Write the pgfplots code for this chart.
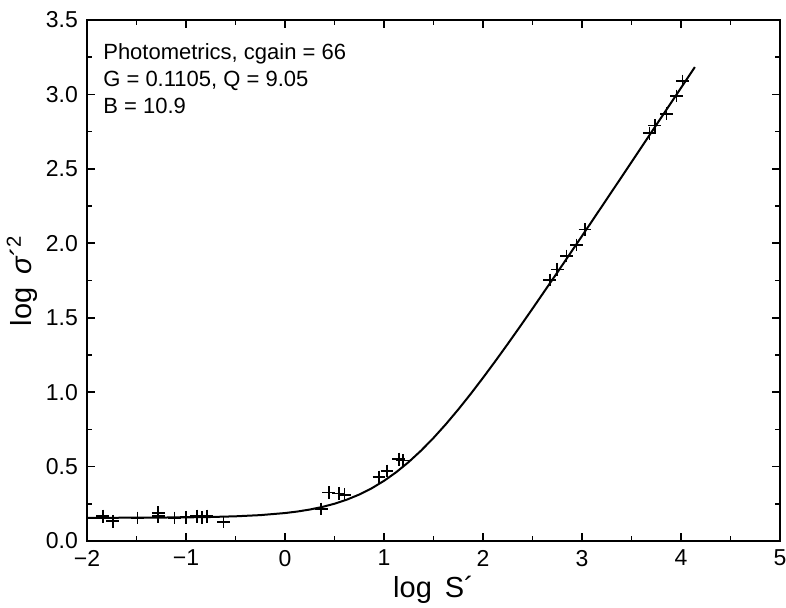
\documentclass[border=0pt]{standalone}
\usepackage{fontspec}
\setmainfont{Liberation Sans}
\usepackage{pgfplots}
\pgfplotsset{compat=1.18}
\begin{document}
\begin{tikzpicture}
\begin{axis}[
  scale only axis,
  width=346.5pt, height=260.5pt,
  xmin=-2, xmax=5, ymin=0, ymax=3.5,
  axis line style={line width=1pt},
  tick style={black, line width=0.8pt},
  tick align=inside,
  major tick length=3.8pt, minor tick length=2.6pt,
  xtick={-2,-1,0,1,2,3,4,5},
  xticklabels={−2,−1,0,1,2,3,4,5},
  ytick={0,0.5,1,1.5,2,2.5,3,3.5},
  yticklabels={0.0,0.5,1.0,1.5,2.0,2.5,3.0,3.5},
  minor x tick num=1, minor y tick num=1,
  ticklabel style={font=\fontsize{11.5}{13}\selectfont},
  xticklabel style={yshift=-1pt},
  yticklabel style={xshift=-1pt},
  xlabel={log\, S´},
  ylabel={log\, {\itshape σ}´\textsuperscript{2}},
  label style={font=\fontsize{14.5}{16}\selectfont},
  xlabel style={at={(rel axis cs:0.5,0)}, anchor=center, yshift=-24.5pt},
  ylabel style={at={(rel axis cs:0,0.5)}, anchor=center, yshift=32.5pt},
  clip=false,
]
% fitted curve
\addplot[black, line width=1pt] coordinates {
  (-2,0.1557)(-1.5,0.1564)(-1,0.1587)(-0.75,0.1612)(-0.5,0.1658)(-0.25,0.1738)
  (0,0.1877)(0.125,0.1979)(0.25,0.2113)(0.375,0.2284)(0.5,0.2503)(0.625,0.2778)
  (0.75,0.3121)(0.875,0.3538)(1,0.4040)(1.125,0.4629)(1.25,0.5308)(1.375,0.6075)
  (1.5,0.6923)(1.625,0.7846)(1.75,0.8833)(1.875,0.9875)(2,1.0962)(2.125,1.2086)
  (2.25,1.3238)(2.375,1.4414)(2.5,1.5608)(2.75,1.8032)(3,2.0490)(3.25,2.2965)
  (3.5,2.5451)(3.75,2.7943)(4,3.0439)(4.14,3.1837)
};
% measurements
\addplot[only marks, mark=+, mark size=3.2pt, mark options={line width=0.8pt}] coordinates {
  (-1.84,0.167)(-1.74,0.133)(-1.49,0.154)(-1.28,0.190)(-1.28,0.167)
  (-1.115,0.154)(-1.0,0.160)(-0.89,0.167)(-0.84,0.160)(-0.79,0.167)(-0.62,0.127)
  (0.366,0.215)(0.443,0.325)(0.544,0.320)(0.60,0.310)
  (0.95,0.430)(1.03,0.470)(1.15,0.550)(1.19,0.540)
  (2.675,1.753)(2.75,1.825)(2.843,1.914)(2.944,1.988)(3.03,2.093)
  (3.68,2.740)(3.735,2.790)(3.855,2.870)(3.955,2.990)(4.016,3.090)
};
\node[anchor=north west, align=left, font=\fontsize{11}{13.5}\selectfont, inner sep=0pt]
  at (rel axis cs:0.023,0.955) {Photometrics, cgain = 66\\G = 0.1105, Q = 9.05\\B = 10.9};
\end{axis}
\pgfresetboundingbox
\path (current axis.south west) ++(-43.5pt,-33.5pt) coordinate (bl);
\path (current axis.north east) ++(3pt,10pt) coordinate (tr);
\path[use as bounding box] (bl) rectangle (tr);
\end{tikzpicture}
\end{document}
